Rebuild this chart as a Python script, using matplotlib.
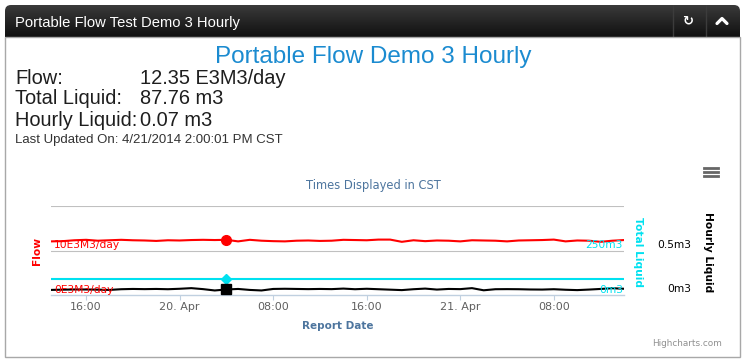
import numpy as np
import pandas as pd
import matplotlib
matplotlib.use("Agg")
import matplotlib.pyplot as plt
import matplotlib.dates as mdates
import matplotlib.transforms as mtransforms
from matplotlib.colors import LinearSegmentedColormap
from matplotlib.lines import Line2D
from matplotlib.patches import FancyBboxPatch, Rectangle
from matplotlib.ticker import FuncFormatter


# hourly readings, 19 Apr 2014 13:00 .. 21 Apr 2014 14:00 (CST)
START = "2014-04-19 13:00"
END   = "2014-04-21 14:00"

FLOW = [12.05, 12.10, 12.30, 12.40, 12.20, 12.30, 12.40, 12.30, 12.25, 12.15,
        12.30, 12.25, 12.35, 12.40, 12.35, 12.40, 12.05, 12.40, 12.20, 12.10,
        12.05, 12.20, 12.25, 12.15, 12.20, 12.40, 12.35, 12.30, 12.45, 12.45,
        11.95, 12.30, 12.10, 12.25, 12.20, 12.05, 12.30, 12.25, 12.20, 12.05,
        12.25, 12.30, 12.35, 12.45, 12.05, 12.25, 12.20, 11.95, 12.20, 12.35]

TOTAL_LIQUID = [87.76, 87.76, 87.76, 87.76, 87.76, 87.76, 87.76, 87.76, 87.76, 87.76,
                87.76, 87.76, 87.76, 87.76, 87.76, 87.76, 87.76, 87.76, 87.76, 87.76,
                87.76, 87.76, 87.76, 87.76, 87.76, 87.76, 87.76, 87.76, 87.76, 87.76,
                87.76, 87.76, 87.76, 87.76, 87.76, 87.76, 87.76, 87.76, 87.76, 87.76,
                87.76, 87.76, 87.76, 87.76, 87.76, 87.76, 87.76, 87.76, 87.76, 87.76]

HOURLY = [0.057, 0.060, 0.062, 0.062, 0.060, 0.057, 0.065, 0.068, 0.066, 0.068,
          0.065, 0.070, 0.077, 0.066, 0.051, 0.062, 0.068, 0.057, 0.051, 0.068,
          0.070, 0.068, 0.066, 0.068, 0.066, 0.072, 0.065, 0.070, 0.065, 0.060,
          0.055, 0.065, 0.072, 0.061, 0.068, 0.066, 0.077, 0.053, 0.065, 0.066,
          0.065, 0.062, 0.061, 0.065, 0.059, 0.055, 0.061, 0.068, 0.076, 0.070]

HOVER = 15   # 20 Apr 04:00, highlighted point

times = pd.date_range(START, END, freq="h").to_numpy()

W, H = 745, 364
def fx(x): return x / W
def fy(y): return 1 - y / H

RED   = "#FF0000"
CYAN  = "#00E1F0"
BLUE  = "#4D759E"
ARIAL = ["Liberation Sans", "DejaVu Sans"]

fig = plt.figure(figsize=(W / 100, H / 100), dpi=100)

# panel frame + dark header
fig.add_artist(Rectangle((fx(5), fy(357)), 735 / W, 320 / H, fill=False,
                         ec="#a8a8a8", lw=1, transform=fig.transFigure))
hax = fig.add_axes([fx(5), fy(37), 735 / W, 32 / H])
hax.set_xlim(0, 735)
hax.set_ylim(32, 0)
hax.axis("off")
grad = np.linspace(0, 1, 64).reshape(-1, 1)
im = hax.imshow(grad, cmap=LinearSegmentedColormap.from_list("hd", ["#3a3a3a", "#101010"]),
                extent=(0, 735, 32, 0), aspect="auto")
clip = FancyBboxPatch((0, 0), 735, 44, boxstyle="round,pad=0,rounding_size=6",
                      transform=hax.transData, fc="none", ec="none")
hax.add_patch(clip)
im.set_clip_path(clip)
for sx in (668, 701):
    hax.plot([sx, sx], [0, 32], color="#3c3c3c", lw=1)
hax.text(10, 22, "Portable Flow Test Demo 3 Hourly", color="white", fontsize=10.6,
         family=ARIAL, ha="left", va="baseline")
hax.text(683, 16, "\u21bb", color="white", fontsize=9.5, fontweight="bold",
         ha="center", va="center")
hax.plot([712, 717, 722], [18.5, 13.5, 18.5], color="white", lw=2.3,
         solid_capstyle="round", solid_joinstyle="round")

# header info block
fig.text(fx(373), fy(62.7), "Portable Flow Demo 3 Hourly", color="#1B8BD0",
         fontsize=17.5, family=ARIAL, ha="center", va="baseline")
info = [("Flow:", "12.35 E3M3/day", 84),
        ("Total Liquid:", "87.76 m3", 104),
        ("Hourly Liquid:", "0.07 m3", 126)]
for lab, val, yb in info:
    fig.text(fx(15), fy(yb), lab, color="#1e1e1e", fontsize=14.4, family=ARIAL, va="baseline")
    fig.text(fx(140), fy(yb), val, color="#1e1e1e", fontsize=14.4, family=ARIAL, va="baseline")
fig.text(fx(15), fy(143.3), "Last Updated On: 4/21/2014 2:00:01 PM CST", color="#333333",
         fontsize=9.5, family=ARIAL, va="baseline")

# chart
ax = fig.add_axes([fx(51), fy(295), 573 / W, 89 / H])
ax.patch.set_alpha(0)
ax.set_xlim(times[0], times[-1])
ax.set_ylim(0, 20)
ax2 = ax.twinx()
ax2.set_ylim(0, 500)
ax2.axis("off")
ax3 = ax.twinx()
ax3.set_ylim(0, 1.0)
ax3.axis("off")

for v in (10, 20):
    ax.axhline(v, color="#C0C0C0", lw=0.8, zorder=0)
for s in ("top", "left", "right"):
    ax.spines[s].set_visible(False)
ax.spines["bottom"].set_color("#C0D0E0")
ax.spines["bottom"].set_linewidth(1)
ax.set_yticks([])
ax.tick_params(axis="x", direction="out", length=3.6, width=0.8, color="#C0D0E0",
               labelsize=8, labelcolor="#606060", pad=1.5)
ax.xaxis.set_major_locator(mdates.HourLocator(byhour=[0, 8, 16]))

def fmt(x, pos):
    d = mdates.num2date(x)
    return d.strftime("%d. %b").lstrip("0") if d.hour == 0 else d.strftime("%H:%M")

ax.xaxis.set_major_formatter(FuncFormatter(fmt))

ax.plot(times, FLOW, color=RED, lw=1.5)
ax2.plot(times, TOTAL_LIQUID, color=CYAN, lw=1.5)
ax3.plot(times, HOURLY, color="black", lw=1.5)

ax.plot(times[HOVER], FLOW[HOVER], "o", ms=7, color=RED)
ax2.plot(times[HOVER], TOTAL_LIQUID[HOVER], "D", ms=5, color=CYAN)
ax3.plot(times[HOVER], HOURLY[HOVER], "s", ms=6.7, color="black")

# axis labels
bl = mtransforms.blended_transform_factory(ax.transAxes, ax.transData)
ax3.text(3 / 573, 10, "10E3M3/day", transform=bl, color=RED, fontsize=7.7, va="bottom", zorder=6)
ax3.text(3 / 573, 0, "0E3M3/day", transform=bl, color=RED, fontsize=7.7, va="bottom", zorder=6)
bl2 = mtransforms.blended_transform_factory(ax2.transAxes, ax2.transData)
ax3.text(1 - 1 / 573, 250, "250m3", transform=bl2, color=CYAN, fontsize=7.7,
         ha="right", va="bottom", zorder=6)
ax3.text(1 - 1 / 573, 0, "0m3", transform=bl2, color=CYAN, fontsize=7.7,
         ha="right", va="bottom", zorder=6)
bl3 = mtransforms.offset_copy(
    mtransforms.blended_transform_factory(fig.transFigure, ax3.transData),
    fig=fig, y=6, units="dots")
for v, t in ((0.5, "0.5m3"), (0, "0m3")):
    ax3.text(fx(691), v, t, transform=bl3, color="black", fontsize=7.7,
             ha="right", va="center")

fig.text(fx(37), fy(251), "Flow", rotation=90, color=RED, fontsize=7.7,
         fontweight="bold", ha="center", va="center")
fig.text(fx(638), fy(252), "Total Liquid", rotation=270, color=CYAN, fontsize=7.7,
         fontweight="bold", ha="center", va="center")
fig.text(fx(708), fy(252), "Hourly Liquid", rotation=270, color="black", fontsize=7.7,
         fontweight="bold", ha="center", va="center")
fig.text(fx(373), fy(186), "Times Displayed in CST", color=BLUE, fontsize=8.3,
         ha="center", va="center")
fig.text(fx(338), fy(326), "Report Date", color=BLUE, fontsize=7.5,
         fontweight="bold", ha="center", va="center")
fig.text(fx(722), fy(343), "Highcharts.com", color="#909090", fontsize=6.4,
         ha="right", va="center")

# context-menu icon
for my in (168, 172, 176):
    fig.add_artist(Line2D([fx(704), fx(718)], [fy(my), fy(my)], color="#666666",
                          lw=2, transform=fig.transFigure))

fig.savefig("out.png", dpi=100)
